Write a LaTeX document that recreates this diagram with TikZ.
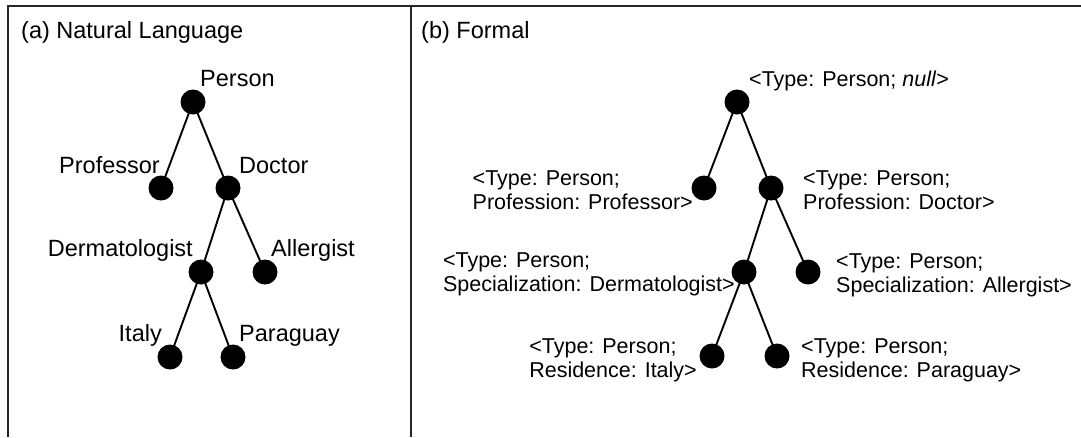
\documentclass[tikz,border=0pt]{standalone}
\usepackage{fontspec}
\setmainfont{Liberation Sans}
% two-line label whose baseline is that of its first line
\newcommand{\lbltwo}[2]{\begin{tabular}[t]{@{}l@{}}#1\\#2\end{tabular}}
\begin{document}
\begin{tikzpicture}[x=1pt,y=-1pt,
  dot/.style={circle,fill=black,inner sep=0pt,minimum size=25pt},
  edge/.style={line width=1.9pt},
  frame/.style={line width=1.6pt,draw=black!85},
  biglbl/.style={inner sep=0pt,font=\fontsize{23.5}{27}\selectfont},
  lbl/.style={inner sep=0pt,font=\fontsize{21.5}{24}\selectfont}]
\useasboundingbox (0,0) rectangle (1081,437);

% panel frame
\coordinate (fbl) at (8,437);
\coordinate (ftl) at (8,6);
\coordinate (ftr) at (1081,6);
\coordinate (dtop) at (411,6);
\coordinate (dbot) at (411,437);
\draw[frame] (fbl) -- (ftl) -- (ftr);
\draw[frame] (dtop) -- (dbot);

% titles
\node[biglbl,anchor=base west] (ta) at (21,38.5) {(a) Natural Language};
\node[biglbl,anchor=base west] (tb) at (421,38.5) {(b) Formal};

% (a) natural-language tree
\node[dot] (aP)  at (193,102) {};
\node[dot] (aPr) at (161,188) {};
\node[dot] (aD)  at (228,188) {};
\node[dot] (aDe) at (201,272) {};
\node[dot] (aA)  at (265,272) {};
\node[dot] (aI)  at (170,357) {};
\node[dot] (aPa) at (233,357) {};
\draw[edge] (aP.center) -- (aPr.center);
\draw[edge] (aP.center) -- (aD.center);
\draw[edge] (aD.center) -- (aDe.center);
\draw[edge] (aD.center) -- (aA.center);
\draw[edge] (aDe.center) -- (aI.center);
\draw[edge] (aDe.center) -- (aPa.center);

\node[biglbl,anchor=base west] (laP)  at (200,86)  {Person};
\node[biglbl,anchor=base east] (laPr) at (160,173) {Professor};
\node[biglbl,anchor=base west] (laD)  at (239,173) {Doctor};
\node[biglbl,anchor=base east] (laDe) at (193,256) {Dermatologist};
\node[biglbl,anchor=base west] (laA)  at (271,256) {Allergist};
\node[biglbl,anchor=base east] (laI)  at (162,341) {Italy};
\node[biglbl,anchor=base west] (laPa) at (239,341) {Paraguay};

% (b) formal tree
\node[dot] (bP)  at (737,102) {};
\node[dot] (bPr) at (704,188) {};
\node[dot] (bD)  at (771,188) {};
\node[dot] (bDe) at (744,272) {};
\node[dot] (bA)  at (808,272) {};
\node[dot] (bI)  at (712,356) {};
\node[dot] (bPa) at (777,356) {};
\draw[edge] (bP.center) -- (bPr.center);
\draw[edge] (bP.center) -- (bD.center);
\draw[edge] (bD.center) -- (bDe.center);
\draw[edge] (bD.center) -- (bA.center);
\draw[edge] (bDe.center) -- (bI.center);
\draw[edge] (bDe.center) -- (bPa.center);

\node[lbl,anchor=base west] (lbP)  at (749,86)  {<Type: Person; \textit{null}>};
\node[lbl,anchor=base east] (lbPr) at (693,185) {\lbltwo{<Type: Person;}{Profession: Professor>}};
\node[lbl,anchor=base west] (lbD)  at (803,185) {\lbltwo{<Type: Person;}{Profession: Doctor>}};
\node[lbl,anchor=base east] (lbDe) at (735,267) {\lbltwo{<Type: Person;}{Specialization: Dermatologist>}};
\node[lbl,anchor=base west] (lbA)  at (836,268) {\lbltwo{<Type: Person;}{Specialization: Allergist>}};
\node[lbl,anchor=base east] (lbI)  at (697,353) {\lbltwo{<Type: Person;}{Residence: Italy>}};
\node[lbl,anchor=base west] (lbPa) at (801,353) {\lbltwo{<Type: Person;}{Residence: Paraguay>}};
\end{tikzpicture}
\end{document}
